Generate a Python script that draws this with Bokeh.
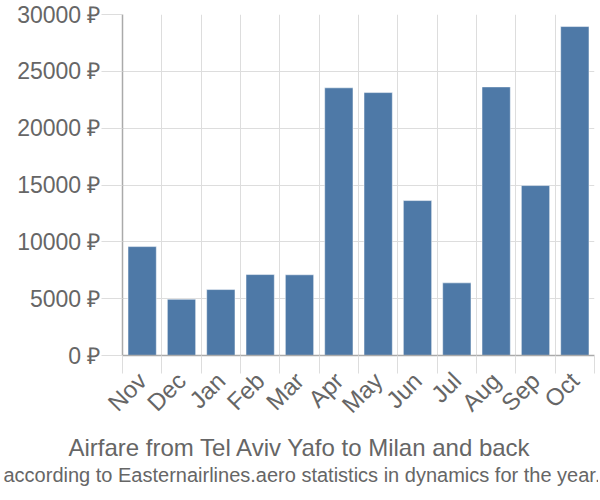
import math
from bokeh.plotting import figure
from bokeh.models import FixedTicker, PrintfTickFormatter, ColumnDataSource, Range1d, Title
from bokeh.embed import file_html
from bokeh.resources import INLINE

months = ["Nov", "Dec", "Jan", "Feb", "Mar", "Apr", "May", "Jun", "Jul", "Aug", "Sep", "Oct"]
prices = [9580, 4950, 5800, 7120, 7100, 23550, 23130, 13630, 6390, 23630, 14950, 28940]
y_ticks = [0, 5000, 10000, 15000, 20000, 25000, 30000]
title_1 = "Airfare from Tel Aviv Yafo to Milan and back"
title_2 = "according to Easternairlines.aero statistics in dynamics for the year."

n = len(months)
centers = [i + 0.5 for i in range(n)]
bounds = [float(i) for i in range(n + 1)]

src = ColumnDataSource(dict(x=centers, top=prices, month=months))

FONT = "Liberation Sans"
GRAY = "#666666"

FRAME_W, FRAME_H = 472, 341
LEFT, TOP, RIGHT, BOTTOM = 122, 14, 4, 138

p = figure(output_backend="svg", toolbar_location=None,
           frame_width=FRAME_W, frame_height=FRAME_H,
           min_border_left=LEFT, min_border_top=TOP, min_border_right=RIGHT,
           min_border_bottom=BOTTOM,
           x_range=Range1d(0, n), y_range=Range1d(0, 30000))
p.outline_line_color = None

p.vbar(x="x", top="top", width=0.72, source=src,
       fill_color="#4e79a7", line_color="white", line_alpha=0.5, line_width=1)

# x axis
p.xaxis.ticker = FixedTicker(ticks=centers, minor_ticks=bounds)
p.xaxis.major_label_overrides = {c: m for c, m in zip(centers, months)}
p.xaxis.major_tick_line_color = None
p.xaxis.major_tick_out = 0
p.xaxis.minor_tick_in = 0
p.xaxis.minor_tick_out = 18
p.xaxis.minor_tick_line_color = "#dddddd"
p.xaxis.axis_line_color = "#aaaaaa"
p.xaxis.axis_line_width = 1.5
p.xaxis.major_label_orientation = math.pi / 4
p.xaxis.major_label_text_font = FONT
p.xaxis.major_label_text_font_size = "24px"
p.xaxis.major_label_text_color = GRAY
p.xaxis.major_label_standoff = 3

p.xgrid.ticker = FixedTicker(ticks=bounds)
p.xgrid.grid_line_color = "#dddddd"

# y axis
p.yaxis.ticker = FixedTicker(ticks=y_ticks)
p.yaxis.formatter = PrintfTickFormatter(format="%d ₽")
p.yaxis.major_tick_in = 0
p.yaxis.major_tick_out = 21
p.yaxis.major_tick_line_color = "#dddddd"
p.yaxis.minor_tick_line_color = None
p.yaxis.axis_line_color = "#aaaaaa"
p.yaxis.axis_line_width = 1.5
p.yaxis.major_label_text_font = FONT
p.yaxis.major_label_text_font_size = "23px"
p.yaxis.major_label_text_color = GRAY
p.yaxis.major_label_standoff = 1
p.ygrid.grid_line_color = "#dddddd"

# captions below: left-aligned titles shifted left so they sit centred on the page
t1 = Title(text=title_1, align="left", offset=-54, standoff=2,
           text_font=FONT, text_font_size="24px", text_color=GRAY,
           text_font_style="normal")
t2 = Title(text=title_2, align="left", offset=-119, standoff=1,
           text_font=FONT, text_font_size="20px", text_color=GRAY,
           text_font_style="normal")
p.add_layout(t1, "below")
p.add_layout(t2, "below")

open("out.html", "w").write(file_html(p, INLINE))
